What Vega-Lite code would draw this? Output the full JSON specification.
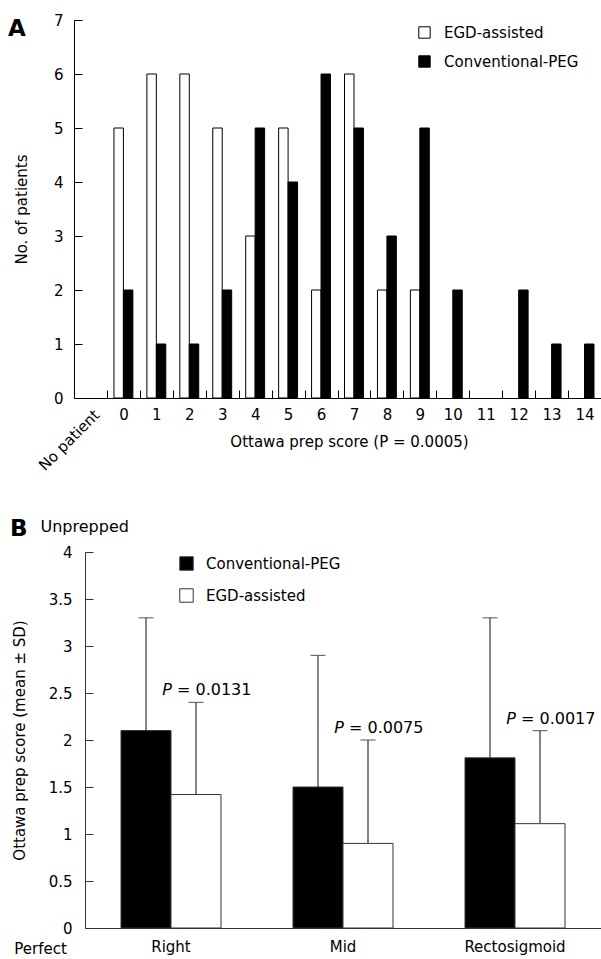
{
  "$schema": "https://vega.github.io/schema/vega-lite/v6.json",
  "background": "white",
  "padding": {"left": 8, "top": 13, "right": 0, "bottom": 0},
  "spacing": 44,
  "config": {
    "font": "DejaVu Sans",
    "view": {"stroke": null},
    "axis": {"labelFont": "DejaVu Sans", "titleFont": "DejaVu Sans", "labelColor": "black", "titleColor": "black", "labelFontSize": 15, "titleFontSize": 15, "titleFontWeight": "normal", "grid": false},
    "legend": {"labelFont": "DejaVu Sans", "labelFontSize": 15, "labelColor": "black"},
    "title": {"font": "DejaVu Sans", "color": "black"}
  },
  "resolve": {"scale": {"color": "independent", "x": "independent", "y": "independent", "xOffset": "independent"}, "legend": {"color": "independent"}},
  "vconcat": [
    {
      "width": 527,
      "height": 378,
      "title": {"text": "A", "anchor": "start", "frame": "group", "dx": -66, "dy": 32, "fontSize": 23, "fontWeight": "bold"},
      "data": {"values": [
        {"score": "0", "group": "EGD-assisted", "count": 5},
        {"score": "0", "group": "Conventional-PEG", "count": 2},
        {"score": "1", "group": "EGD-assisted", "count": 6},
        {"score": "1", "group": "Conventional-PEG", "count": 1},
        {"score": "2", "group": "EGD-assisted", "count": 6},
        {"score": "2", "group": "Conventional-PEG", "count": 1},
        {"score": "3", "group": "EGD-assisted", "count": 5},
        {"score": "3", "group": "Conventional-PEG", "count": 2},
        {"score": "4", "group": "EGD-assisted", "count": 3},
        {"score": "4", "group": "Conventional-PEG", "count": 5},
        {"score": "5", "group": "EGD-assisted", "count": 5},
        {"score": "5", "group": "Conventional-PEG", "count": 4},
        {"score": "6", "group": "EGD-assisted", "count": 2},
        {"score": "6", "group": "Conventional-PEG", "count": 6},
        {"score": "7", "group": "EGD-assisted", "count": 6},
        {"score": "7", "group": "Conventional-PEG", "count": 5},
        {"score": "8", "group": "EGD-assisted", "count": 2},
        {"score": "8", "group": "Conventional-PEG", "count": 3},
        {"score": "9", "group": "EGD-assisted", "count": 2},
        {"score": "9", "group": "Conventional-PEG", "count": 5},
        {"score": "10", "group": "Conventional-PEG", "count": 2},
        {"score": "12", "group": "Conventional-PEG", "count": 2},
        {"score": "13", "group": "Conventional-PEG", "count": 1},
        {"score": "14", "group": "Conventional-PEG", "count": 1}
      ]},
      "mark": {"type": "bar", "stroke": "black", "strokeWidth": 1},
      "encoding": {
        "x": {
          "field": "score", "type": "nominal",
          "scale": {"domain": ["No patient", "0", "1", "2", "3", "4", "5", "6", "7", "8", "9", "10", "11", "12", "13", "14"], "paddingInner": 0, "paddingOuter": 0},
          "axis": {
            "title": "Ottawa prep score (P = 0.0005)",
            "titleX": 275, "titleY": 43, "titleAlign": "center", "titleBaseline": "middle",
            "tickBand": "extent", "tickSize": -8, "tickColor": "black", "domainColor": "black",
            "labelPadding": {"expr": "datum.value === 'No patient' ? 22 : 17"},
            "labelOffset": {"expr": "datum.value === 'No patient' ? 6 : 0"},
            "labelAngle": {"expr": "datum.value === 'No patient' ? -45 : 0"},
            "labelAlign": {"expr": "datum.value === 'No patient' ? 'right' : 'center'"},
            "labelBaseline": {"expr": "datum.value === 'No patient' ? 'middle' : 'top'"}
          }
        },
        "xOffset": {"field": "group", "type": "nominal", "sort": ["EGD-assisted", "Conventional-PEG"], "scale": {"domain": ["EGD-assisted", "Conventional-PEG"], "paddingOuter": 0.74, "paddingInner": 0}},
        "y": {
          "field": "count", "type": "quantitative",
          "scale": {"domain": [0, 7], "nice": false},
          "axis": {"values": [0, 1, 2, 3, 4, 5, 6, 7], "title": "No. of patients", "tickSize": -8, "tickColor": "black", "domainColor": "black", "labelPadding": 19, "titlePadding": 24}
        },
        "color": {
          "field": "group", "type": "nominal",
          "scale": {"domain": ["EGD-assisted", "Conventional-PEG"], "range": ["white", "black"]},
          "legend": {"title": null, "orient": "none", "legendX": 343, "legendY": 5, "symbolType": "square", "symbolSize": 130, "symbolStrokeColor": "black", "symbolStrokeWidth": 1, "rowPadding": 12, "labelOffset": 12}
        }
      }
    },
    {
      "width": 527,
      "height": 376,
      "title": {"text": "B", "subtitle": "\u200b\u00a0\u00a0\u00a0\u00a0\u00a0\u00a0Unprepped", "anchor": "start", "frame": "group", "dx": -64, "fontSize": 23, "fontWeight": "bold", "subtitleFont": "DejaVu Sans", "subtitleFontSize": 16, "subtitleColor": "black", "subtitlePadding": -22, "offset": 4},
      "data": {"values": [
        {"region": "Right", "group": "Conventional-PEG", "mean": 2.1, "upper": 3.3, "p": ""},
        {"region": "Right", "group": "EGD-assisted", "mean": 1.42, "upper": 2.4, "p": "= 0.0131"},
        {"region": "Mid", "group": "Conventional-PEG", "mean": 1.5, "upper": 2.9, "p": ""},
        {"region": "Mid", "group": "EGD-assisted", "mean": 0.9, "upper": 2.0, "p": "= 0.0075"},
        {"region": "Rectosigmoid", "group": "Conventional-PEG", "mean": 1.81, "upper": 3.3, "p": ""},
        {"region": "Rectosigmoid", "group": "EGD-assisted", "mean": 1.11, "upper": 2.1, "p": "= 0.0017"}
      ]},
      "encoding": {
        "x": {
          "field": "region", "type": "nominal", "sort": ["Right", "Mid", "Rectosigmoid"],
          "scale": {"range": [11, 527], "paddingInner": 0, "paddingOuter": 0},
          "axis": {"title": "Perfect", "titleX": -34, "titleY": 20, "titleAlign": "center", "titleBaseline": "middle", "ticks": false, "domainColor": "#333", "labelPadding": 11, "labelAngle": 0}
        },
        "xOffset": {"field": "group", "type": "nominal", "sort": ["Conventional-PEG", "EGD-assisted"], "scale": {"domain": ["Conventional-PEG", "EGD-assisted"], "paddingOuter": 0.72, "paddingInner": 0}}
      },
      "layer": [
        {
          "mark": {"type": "rule", "color": "#333", "strokeWidth": 1.2},
          "encoding": {
            "y": {"field": "mean", "type": "quantitative", "scale": {"domain": [0, 4], "nice": false},
              "axis": {"values": [0, 0.5, 1, 1.5, 2, 2.5, 3, 3.5, 4], "format": "~g", "title": "Ottawa prep score (mean ± SD)", "offset": -11, "tickSize": -8, "tickColor": "#333", "domainColor": "#333", "labelPadding": 21, "titlePadding": 21}},
            "y2": {"field": "upper"}
          }
        },
        {
          "mark": {"type": "tick", "color": "#333", "size": 15, "thickness": 1.2, "orient": "horizontal"},
          "encoding": {"y": {"field": "upper", "type": "quantitative"}}
        },
        {
          "mark": {"type": "bar", "stroke": "#333", "strokeWidth": 1},
          "encoding": {
            "y": {"field": "mean", "type": "quantitative"},
            "color": {
              "field": "group", "type": "nominal",
              "scale": {"domain": ["Conventional-PEG", "EGD-assisted"], "range": ["black", "white"]},
              "legend": {"title": null, "orient": "none", "legendX": 105, "legendY": 4, "symbolType": "square", "symbolSize": 180, "symbolStrokeColor": "#333", "symbolStrokeWidth": 1, "rowPadding": 13, "labelOffset": 12}
            }
          }
        },
        {
          "transform": [{"filter": "datum.group === 'EGD-assisted'"}],
          "mark": {"type": "text", "text": "P", "fontStyle": "italic", "fontSize": 16, "align": "right", "baseline": "alphabetic", "dx": -24, "dy": -7, "color": "black"},
          "encoding": {"y": {"field": "upper", "type": "quantitative"}}
        },
        {
          "transform": [{"filter": "datum.group === 'EGD-assisted'"}],
          "mark": {"type": "text", "fontSize": 16, "align": "left", "baseline": "alphabetic", "dx": -19, "dy": -7, "color": "black"},
          "encoding": {"y": {"field": "upper", "type": "quantitative"}, "text": {"field": "p"}}
        }
      ]
    }
  ]
}
